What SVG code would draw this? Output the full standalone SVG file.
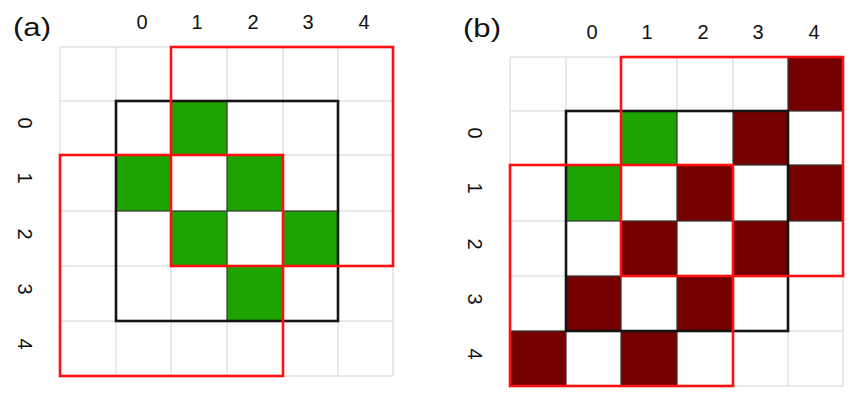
<svg xmlns="http://www.w3.org/2000/svg" xmlns:xlink="http://www.w3.org/1999/xlink" width="850" height="395" viewBox="0 0 850 395">
<style>
.grid{fill:none;stroke:#dfe3e3;stroke-width:1.5}
.g{fill:#1fa300;stroke:#3a3a3a;stroke-width:1.2}
.r{fill:#740000;stroke:#3a3a3a;stroke-width:1.2}
.blk{fill:none;stroke:#141414;stroke-width:2.6}
.red{fill:none;stroke:#ff1010;stroke-width:2.6}
.lab{font-family:"Liberation Sans",Arial,sans-serif;font-size:20px;fill:#111;text-anchor:middle}
.pl{font-family:"Liberation Sans",Arial,sans-serif;font-size:26px;fill:#111}
</style>
<defs>
<path id="gridlines" class="grid" d="M60 47V376M116 47V376M171 47V376M227 47V376M283 47V376M338 47V376M393 47V376M60 47H393M60 101H393M60 155H393M60 211H393M60 266H393M60 321H393M60 376H393"/>
<g id="labels">
<text class="lab" x="142" y="29">0</text>
<text class="lab" x="197" y="29">1</text>
<text class="lab" x="253" y="29">2</text>
<text class="lab" x="308" y="29">3</text>
<text class="lab" x="364" y="29">4</text>
<text class="lab" transform="translate(18,123) rotate(90)">0</text>
<text class="lab" transform="translate(18,178) rotate(90)">1</text>
<text class="lab" transform="translate(18,234) rotate(90)">2</text>
<text class="lab" transform="translate(18,289) rotate(90)">3</text>
<text class="lab" transform="translate(18,344) rotate(90)">4</text>
</g>
</defs>
<rect width="850" height="395" fill="#fff"/>
<g id="panel-a">
<use xlink:href="#gridlines"/>
<use xlink:href="#labels"/>
<g id="a-cells">
<rect class="g" x="171" y="101" width="56" height="54"/>
<rect class="g" x="116" y="155" width="55" height="56"/>
<rect class="g" x="227" y="155" width="56" height="56"/>
<rect class="g" x="171" y="211" width="56" height="55"/>
<rect class="g" x="283" y="211" width="55" height="55"/>
<rect class="g" x="227" y="266" width="56" height="55"/>
</g>
<rect id="a-black" class="blk" x="116" y="101" width="222" height="220"/>
<rect id="a-red1" class="red" x="171" y="47" width="222" height="219"/>
<rect id="a-red2" class="red" x="60" y="155" width="223" height="221"/>
</g>
<text class="pl" x="13" y="36" textLength="38" lengthAdjust="spacingAndGlyphs">(a)</text>
<g id="panel-b" transform="translate(450,10)">
<use xlink:href="#gridlines"/>
<use xlink:href="#labels"/>
<g id="b-cells">
<rect class="r" x="338" y="47" width="55" height="54"/>
<rect class="g" x="171" y="101" width="56" height="54"/>
<rect class="r" x="283" y="101" width="55" height="54"/>
<rect class="g" x="116" y="155" width="55" height="56"/>
<rect class="r" x="227" y="155" width="56" height="56"/>
<rect class="r" x="338" y="155" width="55" height="56"/>
<rect class="r" x="171" y="211" width="56" height="55"/>
<rect class="r" x="283" y="211" width="55" height="55"/>
<rect class="r" x="116" y="266" width="55" height="55"/>
<rect class="r" x="227" y="266" width="56" height="55"/>
<rect class="r" x="60" y="321" width="56" height="55"/>
<rect class="r" x="171" y="321" width="56" height="55"/>
</g>
<rect id="b-black" class="blk" x="116" y="101" width="222" height="220"/>
<rect id="b-red1" class="red" x="171" y="47" width="222" height="219"/>
<rect id="b-red2" class="red" x="60" y="155" width="223" height="221"/>
</g>
<text class="pl" x="463" y="37" textLength="38" lengthAdjust="spacingAndGlyphs">(b)</text>
</svg>
